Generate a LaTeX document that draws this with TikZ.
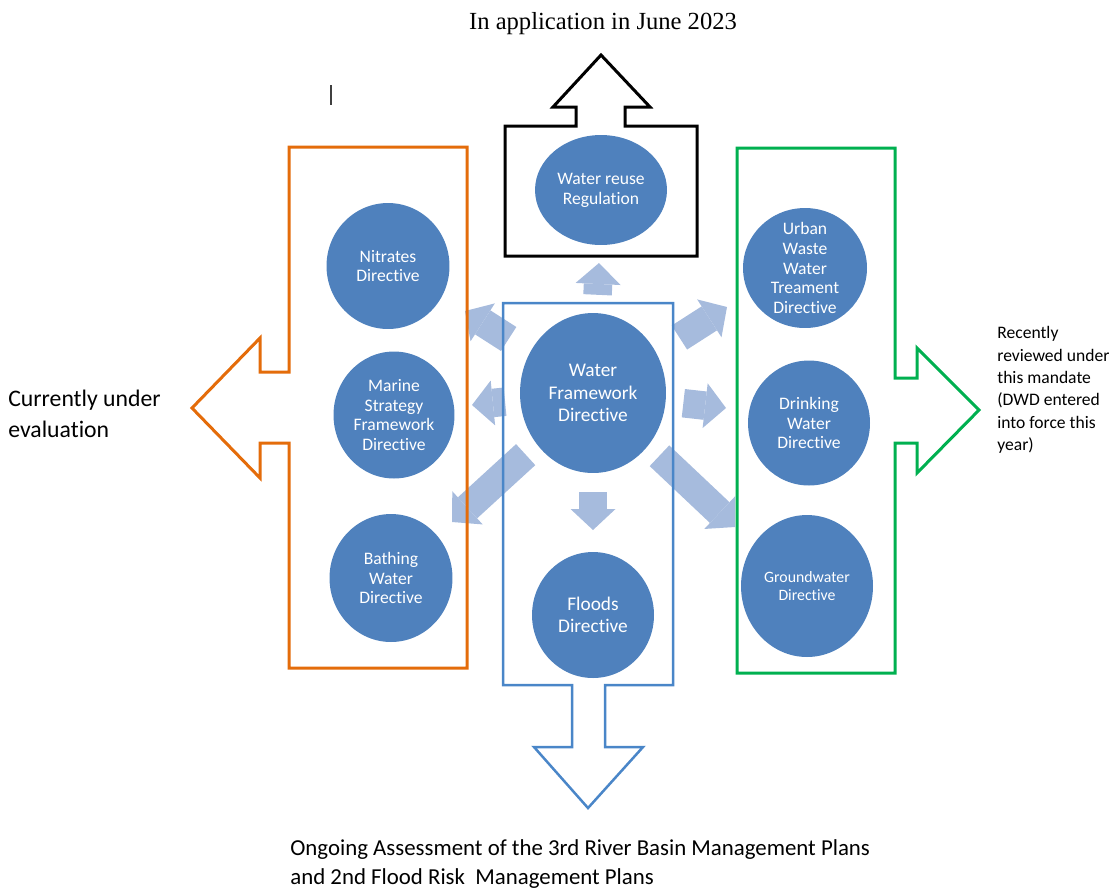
\documentclass[tikz,border=0pt]{standalone}
\usepackage{fontspec}
\setmainfont{Carlito}[Ligatures=NoCommon]
\newfontfamily\titlefont{Liberation Serif}
\usetikzlibrary{shapes.geometric,arrows.meta}
\definecolor{dirblue}{RGB}{79,129,189}
\definecolor{fatblue}{RGB}{166,187,221}
\definecolor{evalorange}{RGB}{228,108,10}
\definecolor{revgreen}{RGB}{0,176,80}
\definecolor{boxblue}{RGB}{74,134,200}

\begin{document}
\begin{tikzpicture}[x=0.02cm,y=-0.02cm,
    dir/.style={ellipse,fill=dirblue,text=white,inner sep=-0.3cm,align=center},
    fat/.style={draw=fatblue,line width=0.57cm,
      -{Triangle[width=0.9cm,length=0.42cm,line width=0pt]}},
    frame/.style={line width=0.06cm,line join=miter},
    txt/.style={inner sep=0pt,align=left}]
  \useasboundingbox (0,0) rectangle (1114,890);
  \node[dir,minimum width=2.92cm,minimum height=3.2cm,font=\fontsize{11}{12.8}\selectfont]
    (wfd) at (593,393) {Water\\Framework\\Directive};
  % pale arrows going out of the WFD
  \foreach \i/\x/\y/\g in {up/599/263/0.36cm, dn/593/530/0.38cm, lt/472/405/0.3cm,
                           rt/726/408/0.35cm, ul/465/311/0.5cm, ur/727/307/0.55cm,
                           ll/452/522/0.3cm, lr/735/527/0.3cm}{
    \coordinate (T\i) at (\x,\y);
    \draw[fat,shorten <=\g] (wfd) -- (T\i);
  }
  % frames with their block arrows
  \draw[frame,draw=black] (505,126) -- (576,126) -- (576,107) -- (553,107) -- (601,55)
    -- (650,107) -- (625,107) -- (625,126) -- (697,126) -- (697,256) -- (505,256) -- cycle;
  \draw[frame,draw=evalorange] (289,147) -- (467,147) -- (467,668) -- (289,668) -- (289,443)
    -- (260,443) -- (260,478) -- (192,408) -- (260,338) -- (260,372) -- (289,372) -- cycle;
  \draw[frame,draw=revgreen] (737,148) -- (895,148) -- (895,378) -- (917,378) -- (917,348)
    -- (979,410) -- (917,473) -- (917,443) -- (895,443) -- (895,673) -- (737,673) -- cycle;
  \draw[frame,draw=boxblue,line width=0.05cm] (503,303) -- (673,303) -- (673,685) -- (605,685)
    -- (605,747) -- (643,747) -- (588,808) -- (534,747) -- (572,747) -- (572,685) -- (503,685) -- cycle;
  % directives
  \foreach \x/\y/\w/\h/\f/\b/\t/\i in {
      601/190/2.64cm/2.2cm/10/11.3/{Water reuse\\Regulation}/reuse,
      388/266/2.46cm/2.52cm/10/11.3/{Nitrates\\Directive}/nitr,
      394/415/2.42cm/2.54cm/10/11.3/{Marine\\Strategy\\Framework\\Directive}/marine,
      391/578/2.46cm/2.56cm/10/11.3/{Bathing\\Water\\Directive}/bath,
      593/615/2.44cm/2.52cm/11/12.8/{Floods\\Directive}/flood,
      805/268/2.48cm/2.4cm/10/11.3/{Urban\\Waste\\Water\\Treament\\Directive}/urban,
      809/423/2.44cm/2.5cm/10/11.3/{Drinking\\Water\\Directive}/drink,
      807/586/2.64cm/2.84cm/9/10.2/{Groundwater\\Directive}/ground}{
    \node[dir,minimum width=\w,minimum height=\h,font=\fontsize{\f}{\b}\selectfont]
      (D\i) at (\x,\y) {\t};
  }
  \draw[line width=0.8pt,black!75] (331,85) -- (331,105);
  % captions
  \node[font=\titlefont\fontsize{14}{16}\selectfont] (title) at (603,24) {In application in June 2023};
  \node[txt,anchor=west,font=\fontsize{13.5}{18}\selectfont] (evaltext) at (8,414)
    {Currently under\\evaluation};
  \node[txt,anchor=west,font=\fontsize{10}{12.7}\selectfont] (revtext) at (997,390)
    {Recently\\reviewed under\\this mandate\\(DWD entered\\into force this\\year)};
  \node[txt,anchor=west,font=\fontsize{13}{16}\selectfont] (rbmp) at (290,864)
    {Ongoing Assessment of the 3rd River Basin Management Plans\\and 2nd Flood Risk\ \ Management Plans};
\end{tikzpicture}
\end{document}
